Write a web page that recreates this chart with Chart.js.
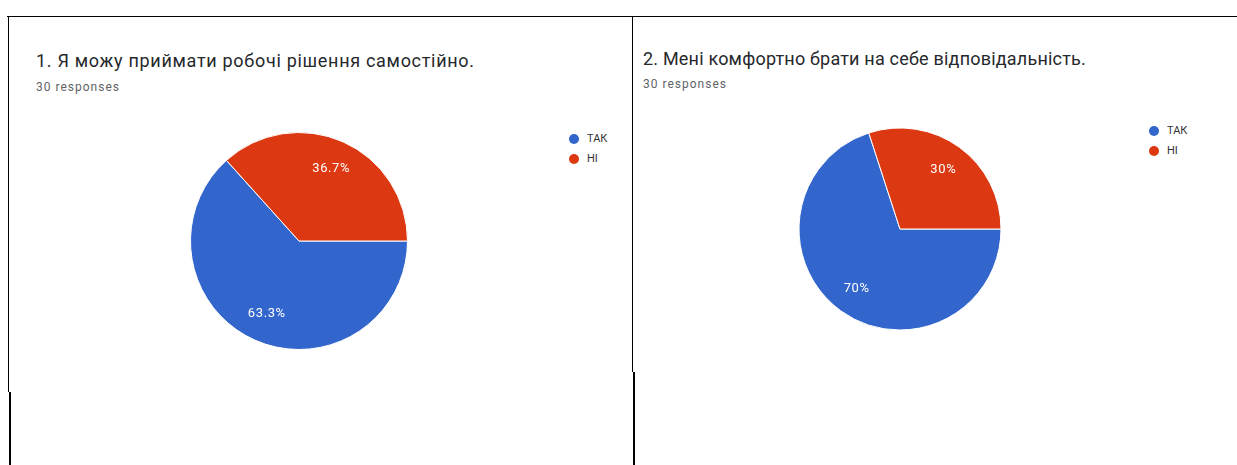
<!DOCTYPE html>
<html>
<head>
<meta charset="utf-8">
<script src="https://cdn.jsdelivr.net/npm/chart.js@4.4.1/dist/chart.umd.min.js"></script>
<style>
  html, body { margin: 0; padding: 0; background: #fff; }
  body { width: 1237px; height: 465px; position: relative; overflow: hidden; font-family: Roboto, "Noto Sans", sans-serif; }
  .line { position: absolute; background: #000; }
  .title { position: absolute; font-size: 18px; color: #26282b; white-space: nowrap; }
  .sub { position: absolute; font-size: 12px; color: #5f6368; white-space: nowrap; letter-spacing: 1px; }
  .legend { position: absolute; font-size: 11px; color: #333; }
  .legend div { position: relative; line-height: 20px; padding-left: 18px; white-space: nowrap; }
  .legend span.dot { position: absolute; left: 0; top: 5px; width: 10px; height: 10px; border-radius: 50%; }
  canvas { position: absolute; }
</style>
</head>
<body>
<div class="line" style="left:7px; top:16px; width:1230px; height:1px;"></div>
<div class="line" style="left:8px; top:16px; width:1px; height:376px;"></div>
<div class="line" style="left:9px; top:392px; width:2px; height:73px;"></div>
<div class="line" style="left:632px; top:16px; width:1px; height:356px;"></div>
<div class="line" style="left:633px; top:372px; width:2px; height:93px;"></div>

<div class="title" id="t1" style="left:36px; top:50px; letter-spacing:0.7px;"></div>
<div class="sub" id="s1" style="left:36px; top:80px;"></div>
<div class="title" id="t2" style="left:643px; top:48px; letter-spacing:0.2px;"></div>
<div class="sub" id="s2" style="left:643px; top:77px;"></div>

<div class="legend" id="lg1" style="left:569px; top:129px;"></div>
<div class="legend" id="lg2" style="left:1149px; top:121px;"></div>

<canvas id="c1" width="240" height="240" style="left:179px; top:121px;"></canvas>
<canvas id="c2" width="240" height="240" style="left:780px; top:109px;"></canvas>

<script>
// ---- data ----
const categories = ["ТАК", "НІ"];
const q1Title = "1. Я можу приймати робочі рішення самостійно.";
const q2Title = "2. Мені комфортно брати на себе відповідальність.";
const responsesText = "30 responses";
const q1Values = [19, 11];   // 63.3% / 36.7%
const q2Values = [21, 9];    // 70% / 30%
const sliceColors = ["#3366cc", "#dc3912"];

document.getElementById("t1").textContent = q1Title;
document.getElementById("t2").textContent = q2Title;
document.getElementById("s1").textContent = responsesText;
document.getElementById("s2").textContent = responsesText;

function buildLegend(id) {
  const el = document.getElementById(id);
  categories.forEach((c, i) => {
    const d = document.createElement("div");
    const s = document.createElement("span");
    s.className = "dot";
    s.style.background = sliceColors[i];
    d.appendChild(s);
    d.appendChild(document.createTextNode(c));
    el.appendChild(d);
  });
}
buildLegend("lg1");
buildLegend("lg2");

const pctLabels = {
  id: "pctLabels",
  afterDatasetsDraw(chart) {
    const ctx = chart.ctx;
    const meta = chart.getDatasetMeta(0);
    const data = chart.data.datasets[0].data;
    const total = data.reduce((a, b) => a + b, 0);
    ctx.save();
    ctx.fillStyle = "#ffffff";
    ctx.font = "13px Roboto, 'Noto Sans', sans-serif";
    if ("letterSpacing" in ctx) ctx.letterSpacing = "0.6px";
    ctx.textAlign = "center";
    ctx.textBaseline = "middle";
    meta.data.forEach((arc, i) => {
      const p = arc.getProps(["x", "y", "startAngle", "endAngle", "outerRadius"], true);
      const mid = (p.startAngle + p.endAngle) / 2;
      const r = p.outerRadius * 0.73;
      const pct = Math.round(data[i] / total * 1000) / 10;
      ctx.fillText(pct + "%", p.x + Math.cos(mid) * r, p.y + Math.sin(mid) * r);
    });
    ctx.restore();
  }
};

function makePie(id, values, radius) {
  return new Chart(document.getElementById(id), {
    type: "pie",
    data: {
      labels: categories,
      datasets: [{
        data: values,
        backgroundColor: sliceColors,
        borderColor: "#ffffff",
        borderWidth: 1,
        radius: radius
      }]
    },
    options: {
      responsive: false,
      animation: false,
      rotation: 90,
      layout: { padding: 0 },
      plugins: { legend: { display: false }, tooltip: { enabled: false }, title: { display: false } }
    },
    plugins: [pctLabels]
  });
}
makePie("c1", q1Values, 108.5);
makePie("c2", q2Values, 101);
</script>
</body>
</html>
